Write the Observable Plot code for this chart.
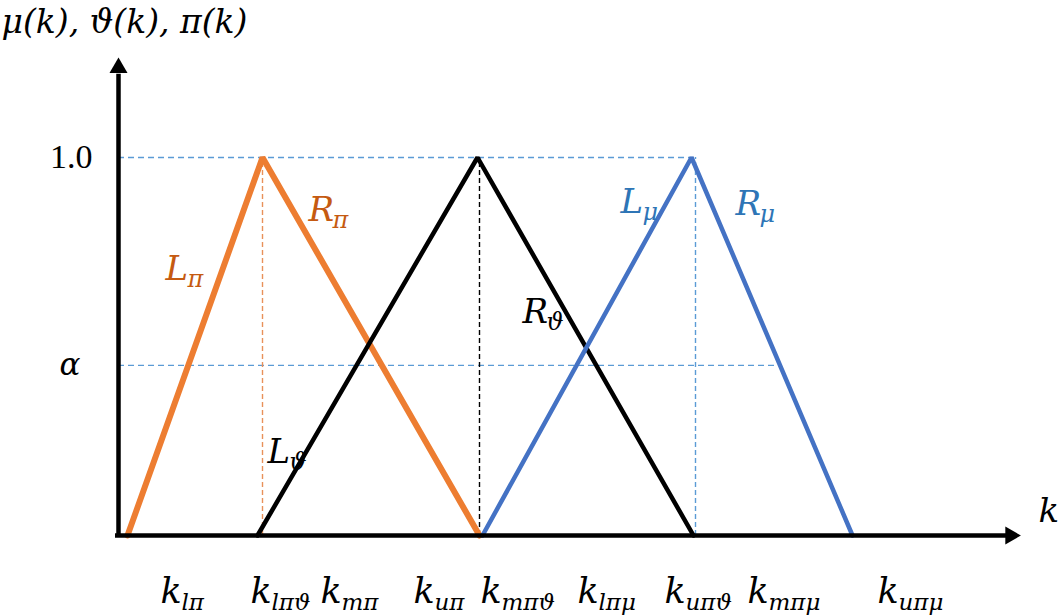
<!DOCTYPE html>
<html>
<head>
<meta charset="utf-8">
<script src="https://cdn.jsdelivr.net/npm/d3@7"></script>
<script src="https://cdn.jsdelivr.net/npm/@observablehq/plot@0.6"></script>
<style>
  html, body { margin: 0; padding: 0; background: #fff; }
  #chart { width: 1059px; height: 615px; }
</style>
</head>
<body>
<div id="chart"></div>
<script>
// ---- data (x in k-units from the vertical axis, y = membership grade) ----
const membership = [0, 1, 0];
const piK    = [0.9, 14.4, 36.1];   // orange triangle  π(k)
const thetaK = [13.9, 35.9, 57.5];  // black triangle   ϑ(k)
const muK    = [36.4, 57.3, 73.4];  // blue triangle    μ(k)
const alphaLevel = 0.45;
const peakGuides = [14.4, 36.1, 57.7];          // vertical dashed guides
const peakGuideColors = ["#E8915A", "#000000", "#5B9BD5"];
const alphaGuideEnd = 66.2;

const tickBase = ["k","k","k","k","k","k","k","k","k"];
const tickSubs = ["lπ","lπϑ","mπ","uπ","mπϑ","lπμ","uπϑ","mπμ","uπμ"];
const tickPos  = [4.2, 13.2, 20.2, 29.5, 36.2, 45.9, 54.6, 62.9, 75.9];

const curveBase  = ["L","R","L","R","L","R"];
const curveSubs  = ["π","π","ϑ","ϑ","μ","μ"];
const curveX     = [4.7, 19.0, 14.9, 40.4, 50.2, 61.7];
const curveY     = [0.675, 0.833, 0.193, 0.563, 0.852, 0.847];
const curveColor = ["#C55A11","#C55A11","#000000","#000000","#2E75B6","#2E75B6"];
const curveSubDx = [22, 24, 22, 24, 22, 24];

const yTickLabel = "1.0";
const alphaLabel = "α";
const titleText = "μ(k), ϑ(k), π(k)";
const xAxisName = "k";

// ---- derived tables ----
const tri = (xs, name) => xs.map((x, i) => ({x, y: membership[i], name}));
const triangles = [...tri(piK, "π"), ...tri(thetaK, "ϑ"), ...tri(muK, "μ")];
const ticks = tickPos.map((x, i) => ({x, base: tickBase[i], sub: tickSubs[i]}));
const curves = curveX.map((x, i) => ({x, y: curveY[i], base: curveBase[i], sub: curveSubs[i], color: curveColor[i], dx: curveSubDx[i]}));
const guides = peakGuides.map((x, i) => ({x, color: peakGuideColors[i]}));

const triRight = {draw(ctx, size) {
  const y = Math.sqrt(size / (Math.sqrt(3) * 3));
  ctx.moveTo(2 * y, 0);
  ctx.lineTo(-y, -Math.sqrt(3) * y);
  ctx.lineTo(-y, Math.sqrt(3) * y);
  ctx.closePath();
}};

const serif = "Liberation Serif, DejaVu Serif, serif";
const math = "DejaVu Serif, serif";
const subDy = 7;

// shift each text of a mark by its own dx (from the curves table)
const perItemDx = (table) => function(index, scales, values, dims, ctx, next) {
  const g = next(index, scales, values, dims, ctx);
  d3.select(g).selectAll("text").each(function(_, j) {
    const t = d3.select(this);
    t.attr("transform", (t.attr("transform") || "") + ` translate(${table[index[j]].dx},0)`);
  });
  return g;
};

const chart = Plot.plot({
  width: 1059,
  height: 615,
  margin: 0,
  x: {domain: [-11.8, 94.1], axis: null},
  y: {domain: [-80/378, 535/378], axis: null},
  style: {fontFamily: serif, background: "#fff"},
  marks: [
    // dashed guides
    Plot.ruleY([1], {x1: 0, x2: peakGuides[2], stroke: "#5B9BD5", strokeWidth: 1.4, strokeDasharray: "6,4"}),
    Plot.ruleY([alphaLevel], {x1: 0, x2: alphaGuideEnd, stroke: "#5B9BD5", strokeWidth: 1.4, strokeDasharray: "6,4"}),
    Plot.ruleX(guides, {x: "x", y1: 0, y2: 1, stroke: "color", strokeWidth: 1.4, strokeDasharray: "5,3"}),
    // triangles
    Plot.line(triangles.filter(d => d.name === "π"), {x: "x", y: "y", stroke: "#ED7D31", strokeWidth: 6, strokeLinejoin: "miter"}),
    Plot.line(triangles.filter(d => d.name === "ϑ"), {x: "x", y: "y", stroke: "#000", strokeWidth: 4.5, strokeLinejoin: "miter"}),
    Plot.line(triangles.filter(d => d.name === "μ"), {x: "x", y: "y", stroke: "#4472C4", strokeWidth: 4.5, strokeLinejoin: "miter"}),
    // axes
    Plot.ruleY([0], {x1: -0.3, x2: 89, stroke: "#000", strokeWidth: 4.5}),
    Plot.ruleX([0], {y1: -0.005, y2: 1.22, stroke: "#000", strokeWidth: 4.5}),
    Plot.dot([{x: 0, y: 1.237}], {x: "x", y: "y", symbol: "triangle", r: 6.7, fill: "#000", stroke: null}),
    Plot.dot([{x: 89.2, y: 0}], {x: "x", y: "y", symbol: triRight, r: 6.7, fill: "#000", stroke: null}),
    // y labels
    Plot.text([yTickLabel], {x: -2.6, y: 1, text: d => d, textAnchor: "end", fontSize: 34, fill: "#000"}),
    Plot.text([alphaLabel], {x: -3.8, y: alphaLevel, text: d => d, textAnchor: "end", fontSize: 31, fontFamily: math, fontStyle: "italic", fill: "#000"}),
    Plot.text([titleText], {x: -11.8, y: 1.33, text: d => d, textAnchor: "start", lineAnchor: "bottom", fontSize: 33, fontFamily: math, fontStyle: "italic", fill: "#000", dx: 1}),
    Plot.text([xAxisName], {x: 92.0, y: 0.035, text: d => d, textAnchor: "start", lineAnchor: "bottom", fontSize: 34, fontFamily: math, fontStyle: "italic", fill: "#000"}),
    // x tick labels
    Plot.text(ticks, {x: "x", y: -0.178, text: "base", textAnchor: "start", lineAnchor: "bottom", fontSize: 35, fontFamily: math, fontStyle: "italic", fill: "#000"}),
    Plot.text(ticks, {x: "x", y: -0.178, text: "sub", textAnchor: "start", lineAnchor: "bottom", fontSize: 23, fontFamily: math, fontStyle: "italic", fill: "#000", dx: 21, dy: subDy}),
    // curve labels
    Plot.text(curves, {x: "x", y: "y", text: "base", textAnchor: "start", lineAnchor: "bottom", fontSize: 34, fontFamily: math, fontStyle: "italic", fill: "color"}),
    Plot.text(curves, {x: "x", y: "y", text: "sub", textAnchor: "start", lineAnchor: "bottom", fontSize: 24, fontFamily: math, fontStyle: "italic", fill: "color", dy: subDy,
      render: perItemDx(curves)})
  ]
});
document.getElementById("chart").append(chart);
</script>
</body>
</html>
